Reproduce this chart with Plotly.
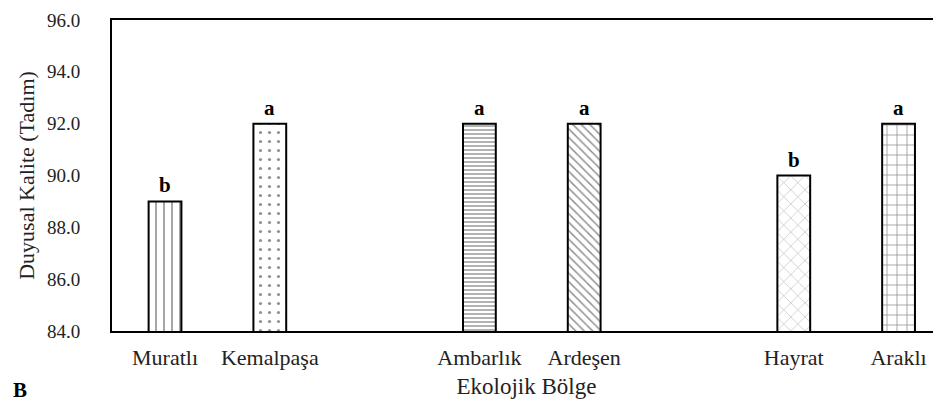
import plotly.graph_objects as go

# Data
regions = ["Muratlı", "Kemalpaşa", "Ambarlık", "Ardeşen", "Hayrat", "Araklı"]
scores = [89.0, 92.0, 92.0, 92.0, 90.0, 92.0]
letters = ["b", "a", "a", "a", "b", "a"]
# slot order on the x axis (blank slots separate the groups)
slot_order = ["Muratlı", "Kemalpaşa", " ", "Ambarlık", "Ardeşen", "  ", "Hayrat", "Araklı"]
y_ticks = [84, 86, 88, 90, 92, 94, 96]

patterns = ["|", ".", "-", "\\", "x", "+"]
pattern_sizes = [8, 9, 4, 6, 10, 10]
pattern_solid = [0.2, 0.1, 0.35, 0.25, 0.08, 0.15]

SERIF = "Liberation Serif, Times New Roman, serif"

fig = go.Figure()

fig.add_trace(go.Bar(
    x=regions,
    y=scores,
    width=0.313,
    marker=dict(
        color="white",
        line=dict(color="black", width=2),
        pattern=dict(
            shape=patterns,
            size=pattern_sizes,
            solidity=pattern_solid,
            fgcolor="#222",
            bgcolor="white",
        ),
    ),
    hoverinfo="skip",
    showlegend=False,
))

# significance letters above the bars
for reg, val, let in zip(regions, scores, letters):
    fig.add_annotation(
        x=reg, y=val, text=f"<b>{let}</b>",
        showarrow=False, yanchor="bottom", yshift=2,
        font=dict(family=SERIF, size=21, color="black"),
    )

# panel label
fig.add_annotation(
    xref="paper", yref="paper", x=-0.122, y=-0.19,
    xanchor="left", yanchor="middle",
    text="<b>B</b>", showarrow=False,
    font=dict(family=SERIF, size=21, color="black"),
)

fig.update_layout(
    width=941, height=409,
    margin=dict(l=104, r=8, t=12, b=86),
    plot_bgcolor="white",
    paper_bgcolor="white",
    font=dict(family=SERIF, color="black"),
    xaxis=dict(
        type="category",
        categoryorder="array",
        categoryarray=slot_order,
        range=[-0.506, 7.405],
        showline=True, linecolor="black", linewidth=2, mirror=True,
        showgrid=False, ticks="",
        tickfont=dict(family=SERIF, size=22, color="#222"),
        ticklabelstandoff=6,
        automargin=False,
        title=dict(text="Ekolojik Bölge", font=dict(family=SERIF, size=23, color="#222"), standoff=8),
    ),
    yaxis=dict(
        range=[84, 96],
        tickvals=y_ticks,
        ticktext=[f"{v:.1f}" for v in y_ticks],
        showline=True, linecolor="black", linewidth=2, mirror=True,
        showgrid=False, ticks="", zeroline=False,
        tickfont=dict(family=SERIF, size=19, color="#222"),
        ticklabelstandoff=26,
        ticklabeloverflow="allow",
        automargin=False,
        title=dict(text="Duyusal Kalite (Tadım)", font=dict(family=SERIF, size=22, color="#222"), standoff=6),
    ),
)

fig.write_html("out.html")
